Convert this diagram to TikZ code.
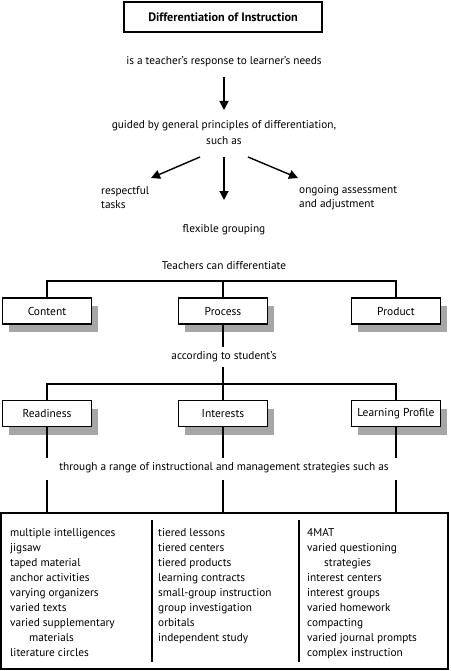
\documentclass[tikz,border=0pt]{standalone}
\usepackage{fontspec}
\setmainfont{PT Sans}
\usetikzlibrary{arrows.meta}
\begin{document}
\begin{tikzpicture}[x=1pt,y=-1pt,
  txt/.style={inner sep=0pt, font=\fontsize{11.3}{15}\selectfont},
  ln/.style={line width=1.4pt},
  arr/.style={line width=1.4pt,-{Triangle[length=9pt,width=9pt]}},
  catbox/.style={draw,line width=1.7pt,minimum width=89pt,minimum height=26pt,inner sep=0pt,fill=white,font=\fontsize{11.5}{15}\selectfont},
  shadowbox/.style={fill=black!35,minimum width=89pt,minimum height=26pt,inner sep=0pt}
]
\useasboundingbox (0,0) rectangle (450,671);

% title
\node[draw,line width=1.7pt,minimum width=198pt,minimum height=30pt,inner sep=0pt,font=\fontsize{12.2}{15}\selectfont\bfseries] (title) at (223,17) {Differentiation of Instruction};
\node[txt] (resp) at (224,62) {is a teacher’s response to learner’s needs};
\coordinate (a1s) at (224,77);
\coordinate (a1e) at (224,110);
\draw[arr] (a1s) -- (a1e);
\node[txt,align=center,font=\fontsize{11.3}{16}\selectfont] (guided) at (224,133) {guided by general principles of differentiation,\\such as};

\coordinate (lS) at (200,157); \coordinate (lE) at (151,178);
\coordinate (mS) at (224,157); \coordinate (mE) at (224,200);
\coordinate (rS) at (248,157); \coordinate (rE) at (298,178);
\draw[arr] (lS) -- (lE);
\draw[arr] (mS) -- (mE);
\draw[arr] (rS) -- (rE);

\node[txt,align=left,anchor=west,font=\fontsize{11.3}{14}\selectfont] (resp1) at (101,198) {respectful\\tasks};
\node[txt,align=left,anchor=west,font=\fontsize{11.3}{14}\selectfont] (ongo) at (299,198) {ongoing assessment\\and adjustment};
\node[txt] (flex) at (224,230) {flexible grouping};
\node[txt] (teach) at (224,266) {Teachers can differentiate};

% first row of boxes
\foreach \x/\n in {47/sh1,223/sh2,396/sh3}{
  \node[shadowbox] (\n) at (\x+6,311+8) {};
}
\node[catbox] (content) at (47,311) {Content};
\node[catbox] (process) at (223,311) {Process};
\node[catbox] (product) at (396,311) {Product};
\coordinate (h1) at (47,281);
\coordinate (h2) at (223,281);
\coordinate (h3) at (396,281);
\draw[ln] (content.north) -- (h1) -- (h3) -- (product.north);
\draw[ln] (h2) -- (process.north);

\node[txt] (accord) at (224,357) {according to student’s};
\coordinate (p1) at (223,347);
\coordinate (p2) at (223,367);
\draw[ln] (process.south) -- (p1);
\coordinate (g1) at (47,384);
\coordinate (g2) at (223,384);
\coordinate (g3) at (396,384);
\draw[ln] (p2) -- (g2);

% second row
\foreach \x/\n in {47/sh4,223/sh5,396/sh6}{
  \node[shadowbox] (\n) at (\x+6,413.5+8) {};
}
\node[catbox] (ready) at (47,413.5) {Readiness};
\node[catbox] (inter) at (223,413.5) {Interests};
\node[catbox] (learn) at (396,413.5) {Learning Profile};
\draw[ln] (ready.north) -- (g1) -- (g3) -- (learn.north);
\draw[ln] (g2) -- (inter.north);

\node[txt] (through) at (224,468) {through a range of instructional and management strategies such as};
\foreach \x/\n in {47/r,223/i,396/l}{
  \coordinate (\n a) at (\x,458);
  \coordinate (\n b) at (\x,480);
  \coordinate (\n c) at (\x,513);
}
\draw[ln] (ready.south) -- (ra);
\draw[ln] (inter.south) -- (ia);
\draw[ln] (learn.south) -- (la);
\draw[ln] (rb) -- (rc);
\draw[ln] (ib) -- (ic);
\draw[ln] (lb) -- (lc);

% bottom box
\draw[line width=1.7pt] (1,513) rectangle (448,669);
\coordinate (d1a) at (152,520); \coordinate (d1b) at (152,662);
\coordinate (d2a) at (299,520); \coordinate (d2b) at (299,662);
\draw[ln] (d1a) -- (d1b);
\draw[ln] (d2a) -- (d2b);

\node[txt,anchor=north west,align=left] (col1) at (10,528) {multiple intelligences\\jigsaw\\taped material\\anchor activities\\varying organizers\\varied texts\\varied supplementary\\\hspace*{19pt}materials\\literature circles};
\node[txt,anchor=north west,align=left] (col2) at (158,528) {tiered lessons\\tiered centers\\tiered products\\learning contracts\\small-group instruction\\group investigation\\orbitals\\independent study};
\node[txt,anchor=north west,align=left] (col3) at (307,528) {4MAT\\varied questioning\\\hspace*{17pt}strategies\\interest centers\\interest groups\\varied homework\\compacting\\varied journal prompts\\complex instruction};
\end{tikzpicture}
\end{document}
